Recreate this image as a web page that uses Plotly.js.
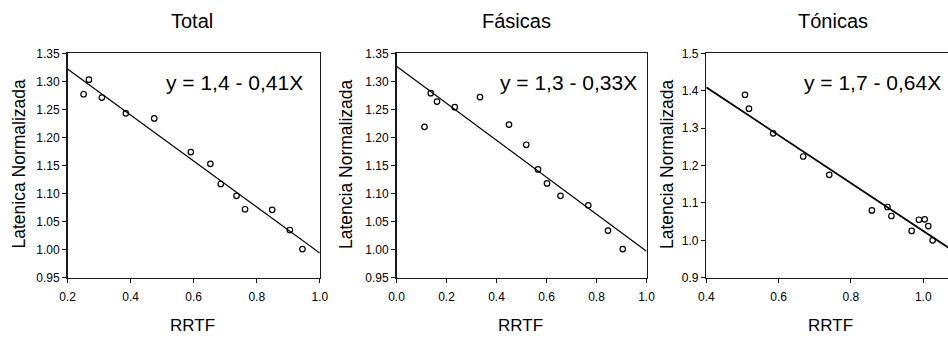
<!DOCTYPE html>
<html>
<head>
<meta charset="utf-8">
<script src="https://cdn.plot.ly/plotly-3.0.1.min.js"></script>
<style>
  html, body { margin: 0; padding: 0; background: #fff; overflow: hidden; }
  #chart { width: 962px; height: 338px; }
</style>
</head>
<body>
<div id="chart"></div>
<script>
// Normalised latency versus RRTF, three groups
const panelTitles = ['Total', 'Fásicas', 'Tónicas'];
const yTitles = ['Latenica Normalizada', 'Latencia Normalizada', 'Latencia Normalizada'];
const xTitle = 'RRTF';

const totalX = [0.251, 0.268, 0.309, 0.385, 0.475, 0.591, 0.653, 0.686, 0.736, 0.763, 0.849, 0.905, 0.945];
const totalY = [1.277, 1.303, 1.271, 1.243, 1.234, 1.174, 1.153, 1.117, 1.096, 1.072, 1.071, 1.035, 1.001];

const fasicasX = [0.112, 0.137, 0.162, 0.233, 0.334, 0.450, 0.519, 0.566, 0.602, 0.656, 0.767, 0.846, 0.905];
const fasicasY = [1.219, 1.279, 1.264, 1.254, 1.272, 1.223, 1.187, 1.143, 1.118, 1.096, 1.079, 1.034, 1.001];

const tonicasX = [0.507, 0.518, 0.585, 0.668, 0.740, 0.858, 0.901, 0.912, 0.968, 0.988, 1.004, 1.014, 1.026];
const tonicasY = [1.389, 1.352, 1.286, 1.224, 1.175, 1.080, 1.089, 1.065, 1.025, 1.055, 1.056, 1.038, 1.000];

// regression fits y = a + b*x
const fitIntercepts = [1.404, 1.327, 1.665];
const fitSlopes = [-0.41, -0.33, -0.64];

// axis ranges and ticks
const xRanges = [[0.2, 1.0], [0.0, 1.0], [0.4, 1.1]];
const yRanges = [[0.95, 1.35], [0.95, 1.35], [0.9, 1.5]];
const xTickVals = [[0.2, 0.4, 0.6, 0.8, 1.0], [0.0, 0.2, 0.4, 0.6, 0.8, 1.0], [0.4, 0.6, 0.8, 1.0]];
const yTickVals = [
  [0.95, 1.00, 1.05, 1.10, 1.15, 1.20, 1.25, 1.30, 1.35],
  [0.95, 1.00, 1.05, 1.10, 1.15, 1.20, 1.25, 1.30, 1.35],
  [0.9, 1.0, 1.1, 1.2, 1.3, 1.4, 1.5]
];
const yTickFormats = ['.2f', '.2f', '.1f'];

const seriesX = [totalX, fasicasX, tonicasX];
const seriesY = [totalY, fasicasY, tonicasY];

// page geometry in pixels
const W = 962, H = 338;
const plotLeft = [67.5, 396.5, 706.3];
const plotRight = [319.8, 646.5, 959.4];
const plotTop = 53.3, plotBottom = 277.7;
const titleCenters = [192, 516, 832.5];
const xTitleCenters = [192.5, 520, 830];
const yTitleCenters = [18.5, 346, 667];
const eqShift = [-15, -7.5, -16];
const lineWidths = [1.2, 1.2, 1.8];

const FONT = 'Arial, "Liberation Sans", Helvetica, sans-serif';

const fmtComma = (v, d) => v.toFixed(d).replace('.', ',');

const traces = [];
const layout = {
  width: W, height: H,
  margin: {l: 0, r: 0, t: 0, b: 0},
  paper_bgcolor: '#fff', plot_bgcolor: '#fff',
  showlegend: false,
  font: {family: FONT, color: '#000', size: 12},
  annotations: []
};

for (let i = 0; i < 3; i++) {
  const s = i === 0 ? '' : String(i + 1);
  const xa = 'x' + s, ya = 'y' + s;

  traces.push({
    type: 'scatter', mode: 'markers', x: seriesX[i], y: seriesY[i],
    xaxis: xa, yaxis: ya, cliponaxis: false,
    marker: {symbol: 'circle-open', size: 5.5, color: '#000', line: {width: 1.2, color: '#000'}},
    hoverinfo: 'skip'
  });

  const a = fitIntercepts[i], b = fitSlopes[i];
  const lx = xRanges[i];
  traces.push({
    type: 'scatter', mode: 'lines', x: lx, y: lx.map(v => a + b * v),
    xaxis: xa, yaxis: ya,
    line: {color: '#000', width: lineWidths[i]},
    hoverinfo: 'skip'
  });

  const axisCommon = {
    showgrid: false, zeroline: false,
    showline: true, mirror: true, linecolor: '#1a1a1a', linewidth: 1.4,
    ticks: 'outside', ticklen: 4, tickwidth: 1, tickcolor: '#1a1a1a',
    tickfont: {family: FONT, size: 12, color: '#000'},
    fixedrange: true
  };

  layout['xaxis' + s] = Object.assign({}, axisCommon, {
    domain: [plotLeft[i] / W, plotRight[i] / W],
    range: xRanges[i], tickmode: 'array', tickvals: xTickVals[i],
    tickformat: '.1f', anchor: ya, ticklabelstandoff: 3
  });
  layout['yaxis' + s] = Object.assign({}, axisCommon, {
    domain: [1 - plotBottom / H, 1 - plotTop / H],
    range: yRanges[i], tickmode: 'array', tickvals: yTickVals[i],
    tickformat: yTickFormats[i], anchor: xa
  });

  // panel title
  layout.annotations.push({
    xref: 'paper', yref: 'paper', x: titleCenters[i] / W, y: 1 - 20.5 / H,
    xanchor: 'center', yanchor: 'middle', showarrow: false,
    text: panelTitles[i], font: {family: FONT, size: 20, color: '#000'}
  });
  // fitted equation
  layout.annotations.push({
    xref: xa + ' domain', yref: 'paper', x: 1, xshift: eqShift[i], y: 1 - 82 / H,
    xanchor: 'right', yanchor: 'middle', showarrow: false,
    text: 'y = ' + fmtComma(a, 1) + ' - ' + fmtComma(Math.abs(b), 2) + 'X',
    font: {family: FONT, size: 21, color: '#000'}
  });
  // x axis title
  layout.annotations.push({
    xref: 'paper', yref: 'paper', x: xTitleCenters[i] / W, y: 1 - 325 / H,
    xanchor: 'center', yanchor: 'middle', showarrow: false,
    text: xTitle, font: {family: FONT, size: 17, color: '#000'}
  });
  // y axis title
  layout.annotations.push({
    xref: 'paper', yref: 'paper', x: yTitleCenters[i] / W, y: 1 - 164 / H,
    xanchor: 'center', yanchor: 'middle', showarrow: false, textangle: -90,
    text: yTitles[i], font: {family: FONT, size: 17.5, color: '#000'}
  });
}

Plotly.newPlot('chart', traces, layout, {displayModeBar: false, staticPlot: true});
</script>
</body>
</html>
